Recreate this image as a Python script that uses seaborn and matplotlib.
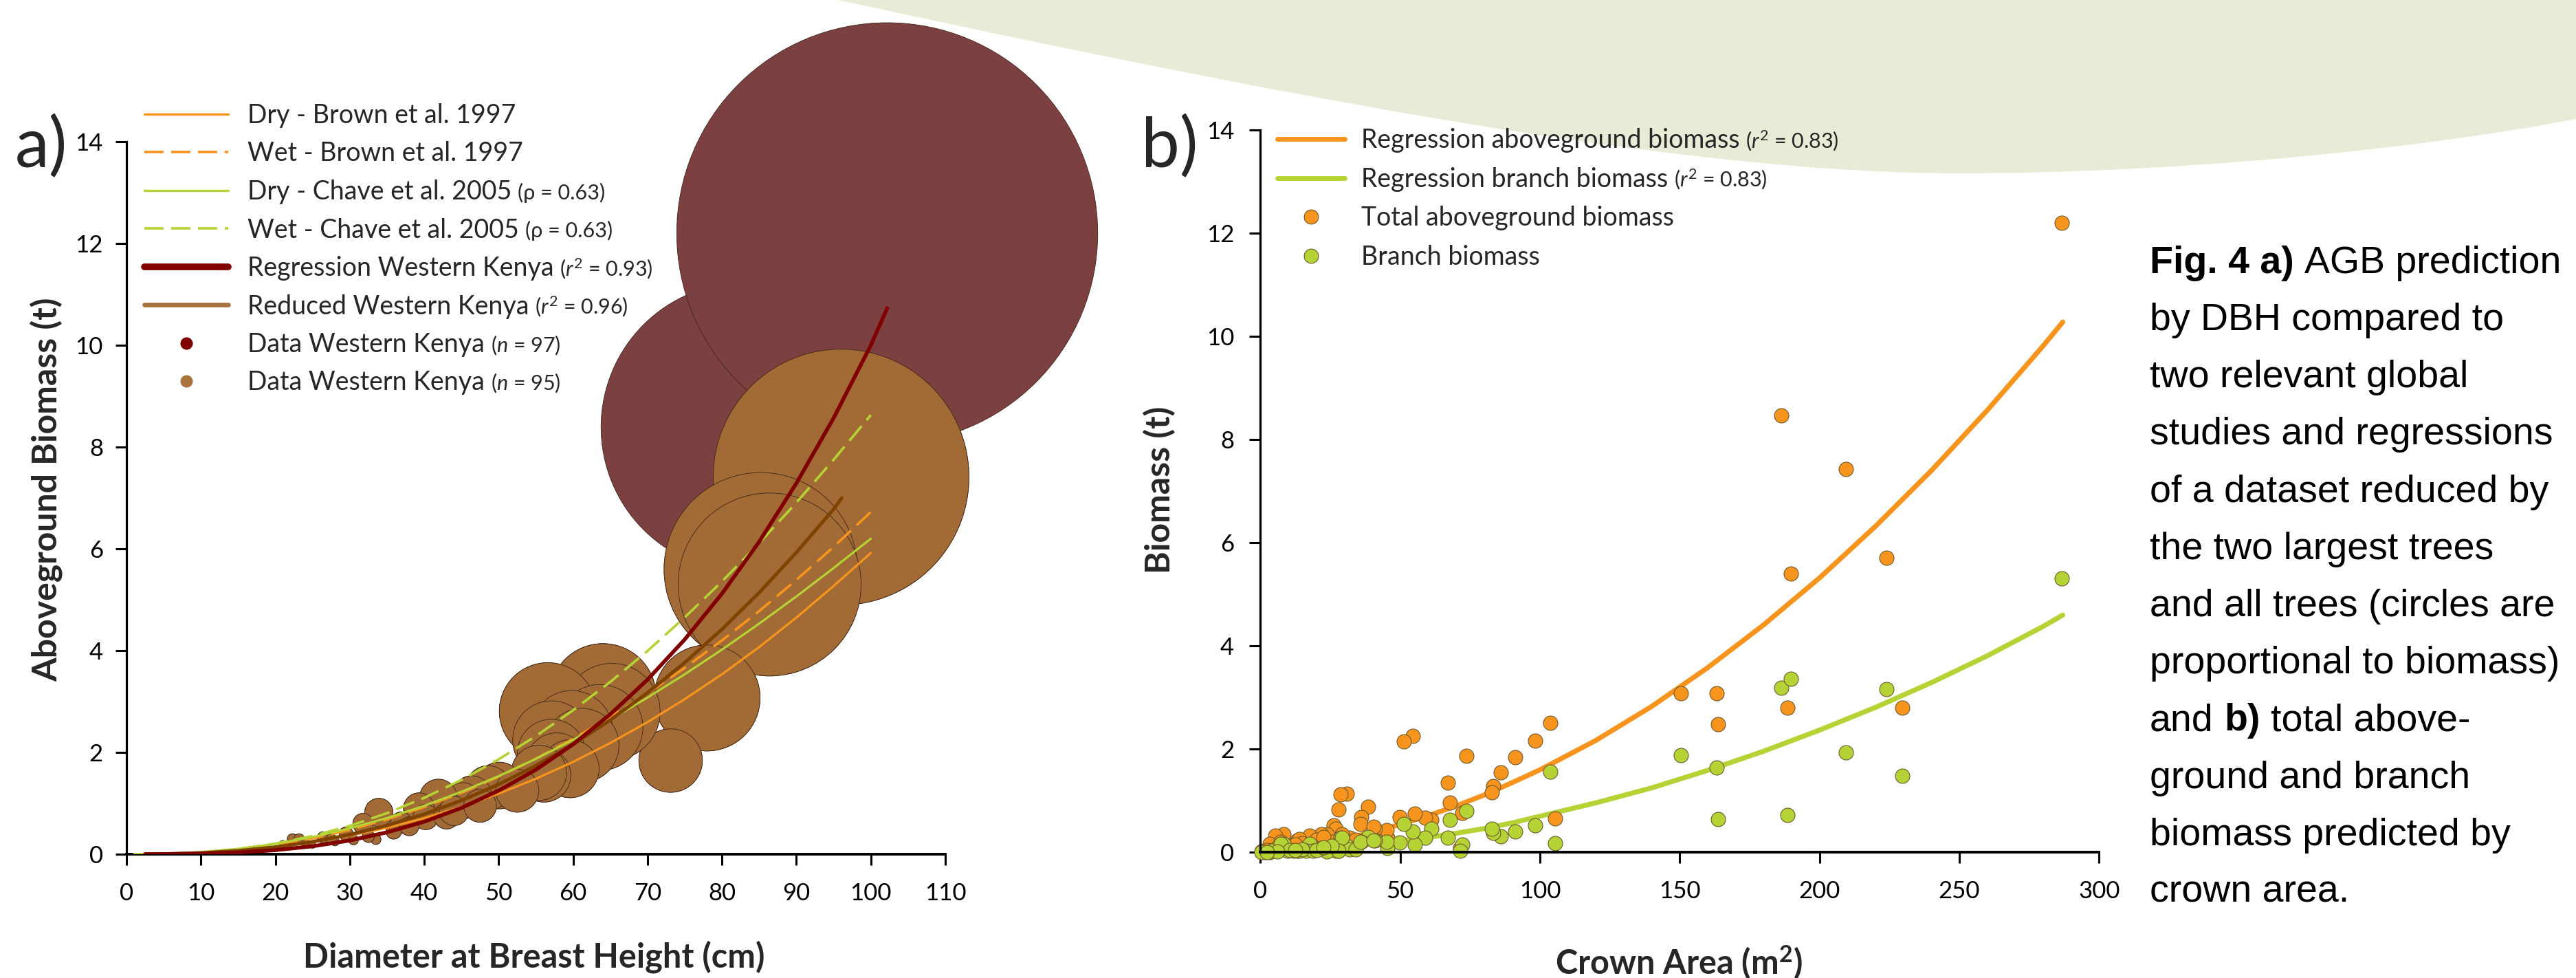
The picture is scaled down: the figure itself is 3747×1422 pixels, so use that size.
import numpy as np
import pandas as pd
import matplotlib
matplotlib.use("Agg")
import matplotlib.pyplot as plt
import matplotlib.transforms as mtransforms
from matplotlib.lines import Line2D
from matplotlib.path import Path
from matplotlib.patches import PathPatch
from matplotlib.font_manager import FontProperties, fontManager
import seaborn as sns

# ======================= DATA =======================
# ---- Panel a: published / fitted allometric curves (DBH cm -> AGB t)
dbh_brown = [2.5, 5, 10, 15, 20, 25, 30, 35, 40, 45, 50, 55, 60, 65, 70, 75, 80, 85, 90, 95, 100]
agb_brown_dry = [0.001, 0.006, 0.028, 0.073, 0.142, 0.238, 0.363, 0.519, 0.708, 0.931, 1.189,
                 1.483, 1.814, 2.185, 2.596, 3.047, 3.536, 4.07, 4.65, 5.27, 5.92]
agb_brown_wet = [0.008, 0.005, 0.026, 0.084, 0.178, 0.310, 0.479, 0.684, 0.927, 1.207, 1.524,
                 1.877, 2.268, 2.696, 3.161, 3.662, 4.201, 4.777, 5.390, 6.039, 6.726]

dbh_chave = [1, 2.5, 5, 10, 15, 20, 25, 30, 35, 40, 45, 50, 55, 60, 65, 70, 75, 80, 85, 90, 95, 100]
agb_chave_dry = [0.0003, 0.002, 0.0087, 0.042, 0.106, 0.204, 0.337, 0.507, 0.712, 0.952, 1.227,
                 1.535, 1.874, 2.246, 2.647, 3.078, 3.536, 4.020, 4.531, 5.065, 5.623, 6.200]
agb_chave_wet = [0.0002, 0.0013, 0.0067, 0.037, 0.102, 0.207, 0.358, 0.557, 0.807, 1.107, 1.460,
                 1.864, 2.321, 2.829, 3.386, 3.994, 4.654, 5.360, 6.113, 6.909, 7.752, 8.630]

dbh_regression = [2.5, 5, 10, 15, 20, 25, 30, 35, 40, 45, 50, 55, 60, 65, 70, 75, 80, 85, 90, 95, 100, 102.2]
agb_regression = [0.0002, 0.00125, 0.01, 0.034, 0.08, 0.156, 0.27, 0.43, 0.64, 0.91, 1.25,
                  1.66, 2.16, 2.75, 3.43, 4.22, 5.12, 6.14, 7.29, 8.57, 10.0, 10.73]

dbh_reduced_fit = [2.5, 5, 10, 15, 20, 25, 30, 35, 40, 45, 50, 55, 60, 65, 70, 75, 80, 85, 90, 95, 96.1]
agb_reduced_fit = [0.0008, 0.0044, 0.025, 0.068, 0.140, 0.245, 0.384, 0.565, 0.787, 1.056, 1.372,
                   1.740, 2.160, 2.637, 3.172, 3.766, 4.42, 5.14, 5.93, 6.78, 7.0]

# ---- Panel a: trees of the reduced data set (n = 95)
dbh_trees = [96.0, 85.2, 86.4, 78.0, 73.1, 64.0, 65.2, 56.6, 63.6, 59.8,
             57.1, 61.2, 57.1, 57.8, 59.6, 56.1, 55.4, 50.1, 48.6, 46.4,
             45.2, 41.9, 39.3, 40.2, 43.0, 33.9, 31.8, 36.9, 33.5, 29.5,
             26.4, 22.3, 23.2, 21.0, 35.9, 38.0, 44.0, 47.5, 52.5, 28.0,
             30.5, 25.0, 24.0, 27.5, 32.5,
             3.0, 3.5, 4.0, 4.5, 5.0, 5.5, 6.0, 6.5, 7.0, 7.5,
             8.0, 8.5, 9.0, 9.5, 10.0, 10.5, 11.0, 11.5, 12.0, 12.5,
             13.0, 13.5, 14.0, 14.5, 15.0, 15.5, 16.0, 16.5, 17.0, 17.5,
             18.0, 18.5, 19.0, 19.5, 20.0, 4.2, 6.2, 8.3, 9.8, 11.2,
             12.8, 14.2, 15.8, 17.2, 18.8, 5.2, 7.3, 10.2, 13.3, 16.3]
agb_trees = [7.41, 5.60, 5.30, 3.07, 1.84, 3.09, 2.80, 2.81, 2.49, 2.40,
             2.25, 2.14, 1.98, 1.78, 1.68, 1.55, 1.60, 1.35, 1.30, 1.15,
             1.05, 1.10, 0.90, 0.73, 0.75, 0.82, 0.60, 0.62, 0.29, 0.40,
             0.33, 0.30, 0.30, 0.20, 0.45, 0.55, 0.85, 0.95, 1.25, 0.25,
             0.28, 0.18, 0.22, 0.30, 0.35,
             0.001, 0.001, 0.001, 0.002, 0.002, 0.002, 0.003, 0.003, 0.004, 0.005,
             0.006, 0.007, 0.008, 0.009, 0.011, 0.012, 0.014, 0.016, 0.018, 0.020,
             0.023, 0.026, 0.029, 0.032, 0.036, 0.040, 0.044, 0.048, 0.053, 0.058,
             0.064, 0.070, 0.077, 0.083, 0.090, 0.001, 0.003, 0.006, 0.010, 0.015,
             0.022, 0.030, 0.042, 0.055, 0.072, 0.002, 0.004, 0.011, 0.025, 0.047]
# the two largest trees (only in the full data set, n = 97)
dbh_largest = [83.2, 102.2]
agb_largest = [8.39, 12.2]

# ---- Panel b: crown area (m2) vs biomass (t)
crown_area = [286.7, 186.2, 209.4, 224.0, 189.7, 150.4, 163.1, 163.7, 188.5, 229.6,
              103.6, 98.4, 91.2, 105.4, 86.0, 83.4, 82.8, 73.8, 72.1, 71.4,
              67.9, 67.0, 61.1, 59.0, 55.3, 54.5, 51.2, 49.8, 45.5, 45.1,
              41.0, 38.5, 36.1, 31.0, 28.7, 28.0, 32.0, 26.2, 27.0, 29.1,
              23.8, 21.7, 17.6, 13.1, 13.9, 8.2, 5.3, 3.3, 11.9, 16.4,
              9.8, 4.1, 1.6, 0.5, 18.9, 27.9, 34.1, 25.4, 7.4, 20.0,
              15.0, 10.5, 6.0, 2.5, 35.9, 40.6, 22.5, 12.5]
total_biomass = [12.20, 8.47, 7.43, 5.71, 5.41, 3.09, 3.09, 2.49, 2.81, 2.81,
                 2.51, 2.17, 1.84, 0.66, 1.55, 1.28, 1.17, 1.87, 0.77, 0.08,
                 0.97, 1.35, 0.63, 0.67, 0.75, 2.26, 2.15, 0.68, 0.28, 0.43,
                 0.46, 0.88, 0.69, 1.14, 1.12, 0.83, 0.28, 0.52, 0.46, 0.35,
                 0.35, 0.35, 0.32, 0.23, 0.26, 0.35, 0.32, 0.17, 0.14, 0.10,
                 0.08, 0.05, 0.03, 0.02, 0.12, 0.15, 0.25, 0.20, 0.20, 0.25,
                 0.18, 0.12, 0.10, 0.04, 0.55, 0.50, 0.30, 0.15]
branch_biomass = [5.31, 3.19, 1.94, 3.16, 3.37, 1.88, 1.65, 0.64, 0.72, 1.48,
                  1.57, 0.52, 0.41, 0.18, 0.31, 0.38, 0.46, 0.81, 0.15, 0.03,
                  0.63, 0.28, 0.46, 0.28, 0.15, 0.40, 0.55, 0.19, 0.08, 0.21,
                  0.23, 0.30, 0.21, 0.13, 0.28, 0.03, 0.06, 0.13, 0.03, 0.28,
                  0.02, 0.08, 0.17, 0.03, 0.03, 0.17, 0.03, 0.01, 0.03, 0.03,
                  0.03, 0.03, 0.01, 0.01, 0.03, 0.03, 0.06, 0.13, 0.17, 0.05,
                  0.06, 0.04, 0.02, 0.01, 0.21, 0.23, 0.10, 0.05]
ca_fit = [0, 10, 20, 30, 40, 50, 60, 70, 80, 90, 100, 120, 140, 160, 180, 200, 220, 240, 260, 280, 287]
fit_total = [0.0, 0.065, 0.15, 0.26, 0.39, 0.54, 0.71, 0.90, 1.11, 1.35, 1.60, 2.17, 2.83,
             3.58, 4.41, 5.32, 6.32, 7.40, 8.57, 9.82, 10.28]
fit_branch = [0.0, 0.029, 0.065, 0.11, 0.16, 0.22, 0.29, 0.37, 0.46, 0.57, 0.70, 0.96, 1.25,
              1.59, 1.96, 2.37, 2.81, 3.29, 3.81, 4.38, 4.60]

ticks_a_x = [0, 10, 20, 30, 40, 50, 60, 70, 80, 90, 100, 110]
ticks_y = [0, 2, 4, 6, 8, 10, 12, 14]
ticks_b_x = [0, 50, 100, 150, 200, 250, 300]

legend_a_labels = ["Dry - Brown et al. 1997", "Wet - Brown et al. 1997", "Dry - Chave et al. 2005",
                   "Wet - Chave et al. 2005", "Regression Western Kenya", "Reduced Western Kenya",
                   "Data Western Kenya", "Data Western Kenya"]
legend_a_notes = [None, None, "(\u03c1 = 0.63)", "(\u03c1 = 0.63)", r"($\mathit{r}^2$ = 0.93)",
                  r"($\mathit{r}^2$ = 0.96)", r"($\mathit{n}$ = 97)", r"($\mathit{n}$ = 95)"]
legend_b_labels = ["Regression aboveground biomass", "Regression branch biomass",
                   "Total aboveground biomass", "Branch biomass"]
legend_b_notes = [r"($\mathit{r}^2$ = 0.83)", r"($\mathit{r}^2$ = 0.83)", None, None]

caption_lines = [
    [("Fig. 4 a)", True), (" AGB prediction", False)],
    [("by DBH compared to", False)],
    [("two relevant global", False)],
    [("studies and regressions", False)],
    [("of a dataset reduced by", False)],
    [("the two largest trees", False)],
    [("and all trees (circles are", False)],
    [("proportional to biomass)", False)],
    [("and ", False), ("b)", True), (" total above-", False)],
    [("ground and branch", False)],
    [("biomass predicted by", False)],
    [("crown area.", False)],
]

# ======================= STYLE =======================
sns.set_style("ticks")
plt.rcParams["font.family"] = ["Lato", "DejaVu Sans"]
plt.rcParams["mathtext.fontset"] = "custom"
plt.rcParams["mathtext.rm"] = "Lato"
plt.rcParams["mathtext.it"] = "Lato:italic"
plt.rcParams["mathtext.bf"] = "Lato:bold"

ORANGE = "#F7941D"
YGREEN = "#B5D334"
DARKRED = "#800000"
REDUCED = "#7F4300"
REDUCED_LEG = "#A5703D"
BUBBLE_BROWN = "#A26A34"
BUBBLE_MAROON = "#7C4040"
PT_EDGE = "#6E5B2E"

LEG_FS = 27
NOTE_FS = 22
TICK_FS = 25
LABEL_FS = 35

W, H = 3747, 1422
fig = plt.figure(figsize=(W / 100, H / 100), dpi=100, facecolor="white")


# decorative slide background shape (top right)
def fpt(x, y):
    return (x / W, 1 - y / H)


verts = [fpt(1220, 0), fpt(2000, 170), fpt(2500, 252), fpt(2850, 252),
         fpt(3150, 252), fpt(3500, 220), fpt(3747, 173),
         fpt(3747, 0), fpt(1220, 0)]
codes = [Path.MOVETO, Path.CURVE4, Path.CURVE4, Path.CURVE4,
         Path.CURVE4, Path.CURVE4, Path.CURVE4, Path.LINETO, Path.CLOSEPOLY]
fig.add_artist(PathPatch(Path(verts, codes), transform=fig.transFigure,
                         facecolor="#E7ECD6", edgecolor="none", zorder=-10))

ax_a = fig.add_axes([184 / W, 1 - 1242 / H, (1375 - 184) / W, (1242 - 206) / H])
ax_b = fig.add_axes([1833.3 / W, 1 - 1239.3 / H, 1220 / W, 1050 / H])
for ax in (ax_a, ax_b):
    ax.set_facecolor("none")

# ======================= PANEL A =======================
df_red = pd.DataFrame({"dbh": dbh_trees, "agb": agb_trees})
df_all = pd.DataFrame({"dbh": dbh_trees + dbh_largest, "agb": agb_trees + agb_largest})
for df in (df_red, df_all):
    df["bubble"] = df["agb"] ** 2  # bubble diameter proportional to biomass

SIZE_MAX = 150.0
SIZE_S = 1306.0 * SIZE_MAX
sns.scatterplot(data=df_all, x="dbh", y="agb", size="bubble", sizes=(0, SIZE_S),
                size_norm=(0, SIZE_MAX), color=BUBBLE_MAROON, edgecolor="#3A2418",
                linewidth=0.6, alpha=1, legend=False, clip_on=False, zorder=1, ax=ax_a)
sns.scatterplot(data=df_red, x="dbh", y="agb", size="bubble", sizes=(0, SIZE_S),
                size_norm=(0, SIZE_MAX), color=BUBBLE_BROWN, edgecolor="#3A2418",
                linewidth=0.6, alpha=1, legend=False, clip_on=False, zorder=1.2, ax=ax_a)

dash = (0, (7.7, 3.1))
sns.lineplot(x=dbh_brown, y=agb_brown_dry, color=ORANGE, linewidth=2.3, ax=ax_a, zorder=3)
sns.lineplot(x=dbh_brown, y=agb_brown_wet, color=ORANGE, linewidth=2.6, linestyle=dash, ax=ax_a, zorder=3)
sns.lineplot(x=dbh_chave, y=agb_chave_dry, color=YGREEN, linewidth=2.3, ax=ax_a, zorder=3)
sns.lineplot(x=dbh_chave, y=agb_chave_wet, color=YGREEN, linewidth=2.6, linestyle=dash, ax=ax_a, zorder=3)
sns.lineplot(x=dbh_reduced_fit, y=agb_reduced_fit, color=REDUCED, linewidth=3.6, ax=ax_a, zorder=3.1)
sns.lineplot(x=dbh_regression, y=agb_regression, color=DARKRED, linewidth=4.0, ax=ax_a, zorder=3.2)

ax_a.set_xlim(0, 110)
ax_a.set_ylim(0, 14)
ax_a.set_xticks(ticks_a_x)
ax_a.set_yticks(ticks_y)
ax_a.set_xlabel("")
ax_a.set_ylabel("")

# ======================= PANEL B =======================
sns.lineplot(x=ca_fit, y=fit_total, color=ORANGE, linewidth=5.2, ax=ax_b, zorder=1.8)
sns.lineplot(x=ca_fit, y=fit_branch, color=YGREEN, linewidth=5.2, ax=ax_b, zorder=1.8)
sns.scatterplot(x=crown_area, y=total_biomass, color=ORANGE, s=228, edgecolor=PT_EDGE,
                linewidth=0.8, clip_on=False, zorder=2.0, ax=ax_b)
sns.scatterplot(x=crown_area, y=branch_biomass, color=YGREEN, s=228, edgecolor=PT_EDGE,
                linewidth=0.8, clip_on=False, zorder=2.1, ax=ax_b)
ax_b.set_xlim(0, 300)
ax_b.set_ylim(0, 14)
ax_b.set_xticks(ticks_b_x)
ax_b.set_yticks(ticks_y)
ax_b.set_xlabel("")
ax_b.set_ylabel("")

# ======================= AXES STYLE =======================
for ax, ypad in ((ax_a, 13), (ax_b, 16)):
    for s in ("top", "right"):
        ax.spines[s].set_visible(False)
    ax.spines["left"].set_linewidth(2.3)
    ax.spines["bottom"].set_linewidth(2.8)
    ax.spines["left"].set_color("black")
    ax.spines["bottom"].set_color("black")
    ax.tick_params(axis="x", direction="out", length=11.5, width=2.2, labelsize=TICK_FS,
                   pad=18, colors="black")
    ax.tick_params(axis="y", direction="out", length=11.5, width=2.2, labelsize=TICK_FS,
                   pad=ypad, colors="black")

# axis titles
fig.text(67 / W, 1 - 712 / H, "Aboveground Biomass (t)", rotation=90, ha="center", va="center",
         fontsize=LABEL_FS + 1, fontweight="bold")
fig.text(777 / W, 1 - 1391 / H, "Diameter at Breast Height (cm)", ha="center", va="center",
         fontsize=LABEL_FS, fontweight="bold")
fig.text(1687 / W, 1 - 712 / H, "Biomass (t)", rotation=90, ha="center", va="center",
         fontsize=LABEL_FS + 1, fontweight="bold")
fig.text(2442 / W, 1 - 1400 / H, r"Crown Area (m$^\mathbf{2}$)", ha="center", va="center",
         fontsize=LABEL_FS, fontweight="bold")

# panel letters
fig.text(22 / W, 1 - 243 / H, "a)", fontsize=72, ha="left", va="baseline")
fig.text(1660 / W, 1 - 243 / H, "b)", fontsize=72, ha="left", va="baseline")

# ======================= LEGENDS =======================
handles_a = [
    Line2D([], [], color=ORANGE, lw=2.4),
    Line2D([], [], color=ORANGE, lw=2.6, linestyle=dash),
    Line2D([], [], color=YGREEN, lw=2.4),
    Line2D([], [], color=YGREEN, lw=2.6, linestyle=dash),
    Line2D([], [], color=DARKRED, lw=7.0),
    Line2D([], [], color=REDUCED_LEG, lw=4.8),
    Line2D([], [], color=DARKRED, marker="o", linestyle="none", markersize=13, markeredgewidth=0),
    Line2D([], [], color="#A87440", marker="o", linestyle="none", markersize=13, markeredgewidth=0),
]
leg_a = ax_a.legend(handles_a, legend_a_labels, loc="upper left",
                    bbox_to_anchor=(210 / W, 1 - 150 / H), bbox_transform=fig.transFigure,
                    frameon=False, fontsize=LEG_FS, handlelength=87.8 / LEG_FS,
                    handletextpad=20.0 / LEG_FS, labelspacing=0.52, borderpad=0, borderaxespad=0)
handles_b = [
    Line2D([], [], color=ORANGE, lw=5.0),
    Line2D([], [], color=YGREEN, lw=5.0),
    Line2D([], [], color=ORANGE, marker="o", linestyle="none", markersize=15,
           markeredgecolor=PT_EDGE, markeredgewidth=0.8),
    Line2D([], [], color=YGREEN, marker="o", linestyle="none", markersize=15,
           markeredgecolor=PT_EDGE, markeredgewidth=0.8),
]
leg_b = ax_b.legend(handles_b, legend_b_labels, loc="upper left",
                    bbox_to_anchor=(1858 / W, 1 - 186 / H), bbox_transform=fig.transFigure,
                    frameon=False, fontsize=LEG_FS, handlelength=70.6 / LEG_FS,
                    handletextpad=17.0 / LEG_FS, labelspacing=0.55, borderpad=0, borderaxespad=0)

fig.canvas.draw()
renderer = fig.canvas.get_renderer()
ident = mtransforms.IdentityTransform()


def add_notes(leg, notes, size):
    for t, note in zip(leg.get_texts(), notes):
        if not note:
            continue
        bb = t.get_window_extent(renderer)
        fp = t.get_fontproperties()
        _, _, d = renderer.get_text_width_height_descent("lp", fp, ismath=False)
        fig.text(bb.x1 + 9, bb.y0 + d, note, transform=ident, fontsize=size,
                 ha="left", va="baseline", family=["Lato", "DejaVu Sans"])


add_notes(leg_a, legend_a_notes, NOTE_FS)
add_notes(leg_b, legend_b_notes, NOTE_FS)

# ======================= CAPTION =======================
names = {f.name for f in fontManager.ttflist}
if "Liberation Sans Narrow" in names:
    cap_family, cap_size = "Liberation Sans Narrow", 48
else:
    cap_family, cap_size = "Liberation Sans", 40
fp_reg = FontProperties(family=cap_family, size=cap_size)
fp_bold = FontProperties(family=cap_family, size=cap_size, weight="bold")


def tw(s, fp):
    w, _, _ = renderer.get_text_width_height_descent(s, fp, ismath=False)
    return w


space_w = tw("a a", fp_reg) - tw("aa", fp_reg)
x0 = 3127
for i, segs in enumerate(caption_lines):
    y = H - (396.7 + 83.2 * i)
    x = x0
    for s, bold in segs:
        fp = fp_bold if bold else fp_reg
        if s.startswith(" "):
            x += space_w
        core = s.strip()
        fig.text(x, y, core, transform=ident, fontproperties=fp, ha="left", va="baseline",
                 color="black")
        x += tw(core, fp)
        if s.endswith(" "):
            x += space_w

fig.savefig("out.png", dpi=100, facecolor="white")
